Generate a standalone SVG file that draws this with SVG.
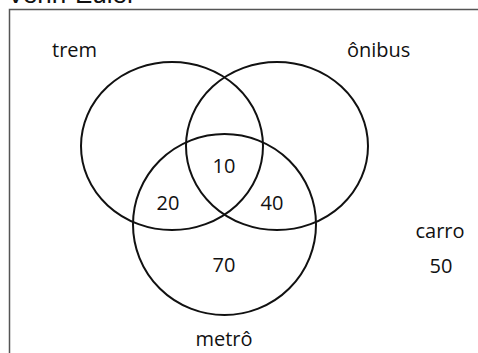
<svg xmlns="http://www.w3.org/2000/svg" width="478" height="353" viewBox="0 0 478 353">
<style>
.set{fill:none;stroke:#111;stroke-width:2}
.lbl{font-family:"Open Sans","Noto Sans",sans-serif;font-size:20px;fill:#111}
.c{text-anchor:middle}
</style>
<rect width="478" height="353" fill="#fff"/>
<text x="7" y="3" font-family="Liberation Sans, Arial, sans-serif" font-size="26" fill="#111">Venn-Euler</text>
<path d="M9.5 353 V9.5 H478" fill="none" stroke="#555" stroke-width="1.5"/>
<g id="connectors"></g>
<g id="trem"><ellipse class="set" cx="172" cy="146" rx="91" ry="84"/><text class="lbl" x="52" y="57">trem</text></g>
<g id="onibus"><ellipse class="set" cx="277" cy="146" rx="91" ry="84"/><text class="lbl" x="347" y="57">ônibus</text></g>
<g id="metro"><ellipse class="set" cx="224.5" cy="224.5" rx="91.5" ry="90.5"/><text class="lbl c" x="224" y="346">metrô</text></g>
<g id="carro"><text class="lbl c" x="440" y="238">carro</text><text class="lbl c" x="441" y="273">50</text></g>
<g id="values">
<text class="lbl c" x="224" y="173">10</text>
<text class="lbl c" x="168" y="210">20</text>
<text class="lbl c" x="272" y="210">40</text>
<text class="lbl c" x="224" y="272">70</text>
</g>
</svg>
